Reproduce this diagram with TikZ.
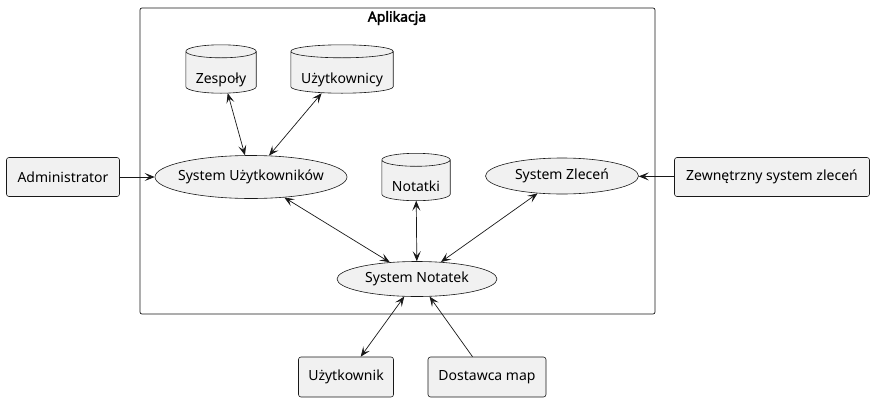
\documentclass[tikz,border=0pt]{standalone}
\usepackage{fontspec}
\setmainfont{Noto Sans}[BoldFont={Noto Sans}, BoldFeatures={FakeBold=2.5}]
\usetikzlibrary{arrows.meta,shapes.geometric,calc,backgrounds}

\definecolor{fond}{HTML}{F1F1F1}
\definecolor{trait}{HTML}{181818}

\tikzset{
  texte/.style={font=\fontsize{14}{16}\selectfont},
  acteur/.style={texte, draw=trait, fill=fond, rounded corners=2.5pt, inner sep=0pt, line width=0.6pt},
  cas/.style={texte, ellipse, draw=trait, fill=fond, inner ysep=0pt, inner xsep=-20pt, line width=0.6pt},
  base/.style={texte, rectangle, inner sep=0pt, text height=29pt, text depth=0pt},
  pointe/.tip={Stealth[length=10pt, width=8pt, inset=4.5pt]},
  lien/.style={draw=trait, line width=0.7pt, -pointe},
  liens/.style={draw=trait, line width=0.7pt, pointe-pointe}
}

\begin{document}
\begin{tikzpicture}[x=1pt, y=-1pt]
  \useasboundingbox (0,0) rectangle (875,402);

  % Cadre
  \draw[trait, line width=0.7pt, rounded corners=2pt] (140,8) rectangle (655,314);
  \node[font=\fontsize{14}{16}\selectfont\bfseries] (titre) at (397,18) {Aplikacja};

  % Bases
  \node[base, minimum width=70pt, minimum height=48pt] (zespoly) at (221,69) {Zespoły};
  \node[base, minimum width=102pt, minimum height=48pt] (uzytkownicy) at (342,69) {Użytkownicy};
  \node[base, minimum width=68pt, minimum height=47pt] (notatki) at (416,177) {Notatki};

  \begin{scope}[on background layer]
    \foreach \b in {zespoly, uzytkownicy, notatki}
      \filldraw[draw=trait, fill=fond, line width=0.6pt]
        let \p1=(\b.north west), \p2=(\b.north east), \n1={(\x2-\x1)/2} in
        ([yshift=-6.5pt]\b.north west) -- ([yshift=6.5pt]\b.south west)
        arc[start angle=180, end angle=360, x radius=\n1, y radius=6.5pt]
        -- ([yshift=-6.5pt]\b.north east)
        arc[start angle=0, end angle=180, x radius=\n1, y radius=6.5pt] -- cycle
        ([yshift=-6.5pt]\b.north west)
        arc[start angle=180, end angle=360, x radius=\n1, y radius=6.5pt];
  \end{scope}

  % Systemes
  \node[cas, minimum width=192pt, minimum height=43pt] (sysuzyt) at (251,177) {System Użytkowników};
  \node[cas, minimum width=153pt, minimum height=36pt] (syszlec) at (562,176) {System Zleceń};
  \node[cas, minimum width=160pt, minimum height=35pt] (sysnot) at (417,279) {System Notatek};

  % Acteurs
  \node[acteur, minimum width=113pt, minimum height=39pt] (admin) at (63,177) {Administrator};
  \node[acteur, minimum width=195pt, minimum height=39pt] (zewn) at (772,177) {Zewnętrzny system zleceń};
  \node[acteur, minimum width=95pt, minimum height=40pt] (uzytkownik) at (346,377) {Użytkownik};
  \node[acteur, minimum width=118pt, minimum height=40pt] (dostawca) at (487,377) {Dostawca map};

  % Liens
  \draw[lien] (admin) -- (sysuzyt);
  \draw[lien] (zewn) -- (syszlec);
  \draw[lien] (dostawca) -- (sysnot);
  \draw[liens] (zespoly) -- (sysuzyt);
  \draw[liens] (uzytkownicy) -- (sysuzyt);
  \draw[liens] (sysuzyt) -- (sysnot);
  \draw[liens] (notatki) -- (sysnot);
  \draw[liens] (syszlec) -- (sysnot);
  \draw[liens] (uzytkownik) -- (sysnot);

\end{tikzpicture}
\end{document}
